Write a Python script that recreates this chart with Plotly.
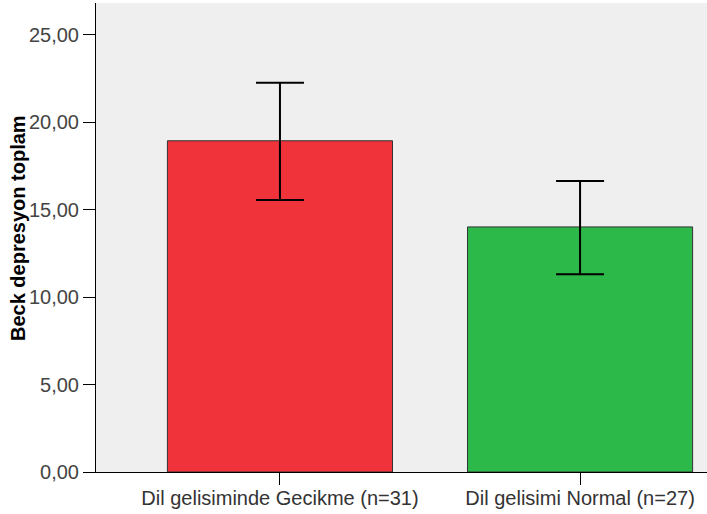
import plotly.graph_objects as go

# Mean Beck depression score per group, with error bar extents
groups = ["Dil gelisiminde Gecikme (n=31)", "Dil gelisimi Normal (n=27)"]
means = [18.95, 14.02]
err_plus = [3.32, 2.63]
err_minus = [3.39, 2.71]
bar_colors = ["#F0323A", "#2DB84A"]
y_ticks = [0, 5, 10, 15, 20, 25]
y_tick_text = ["0,00", "5,00", "10,00", "15,00", "20,00", "25,00"]

fig = go.Figure()
fig.add_trace(go.Bar(
    x=groups,
    y=means,
    width=0.75,
    marker=dict(color=bar_colors, line=dict(color="#333333", width=1)),
    error_y=dict(
        type="data",
        symmetric=False,
        array=err_plus,
        arrayminus=err_minus,
        color="#000000",
        thickness=2,
        width=24,
    ),
    showlegend=False,
))

fig.update_layout(
    width=707,
    height=514,
    margin=dict(l=96, r=0, t=3, b=42),
    paper_bgcolor="#FFFFFF",
    plot_bgcolor="#EFEFEF",
    font=dict(family="Liberation Sans, Arial, sans-serif", size=20, color="#333333"),
    xaxis=dict(
        type="category",
        range=[-0.613, 1.423],
        showgrid=False,
        zeroline=False,
        showline=True,
        linecolor="#000000",
        linewidth=1,
        ticks="outside",
        ticklen=12,
        tickcolor="#000000",
        ticklabelstandoff=-4,
        tickfont=dict(size=20, color="#333333"),
    ),
    yaxis=dict(
        range=[0, 26.83],
        tickvals=y_ticks,
        ticktext=y_tick_text,
        showgrid=False,
        zeroline=False,
        showline=True,
        linecolor="#000000",
        linewidth=1,
        ticks="outside",
        ticklen=12,
        tickcolor="#000000",
        tickfont=dict(size=20, color="#444444"),
    ),
    annotations=[dict(
        text="<b>Beck depresyon toplam</b>",
        xref="paper",
        yref="y",
        x=0,
        y=13.93,
        xshift=-78.5,
        textangle=-90,
        showarrow=False,
        xanchor="center",
        yanchor="middle",
        font=dict(family="Liberation Sans, Arial, sans-serif", size=20, color="#000000"),
    )],
)

fig.write_html("out.html")
